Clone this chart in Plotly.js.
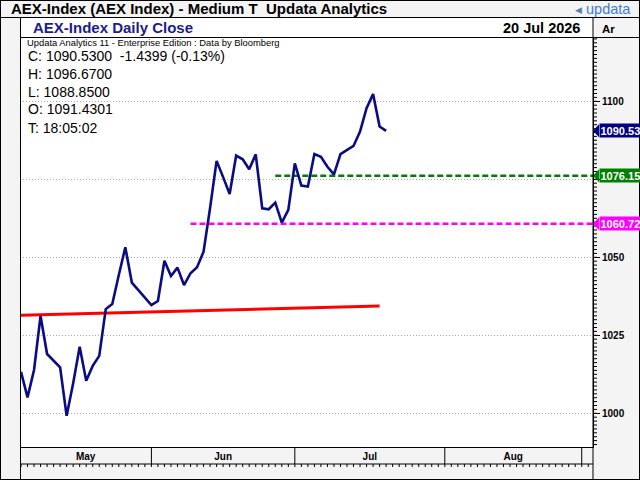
<!DOCTYPE html>
<html>
<head>
<meta charset="utf-8">
<script src="https://cdn.plot.ly/plotly-3.0.1.min.js"></script>
<style>html,body{margin:0;padding:0;background:#f4f4f4;}#chart{width:640px;height:480px;}</style>
</head>
<body>
<div id="chart"></div>
<script>
// ---- data ----
const closes = [1013.3,1005.1,1013.9,1031.2,1019.0,1016.9,1014.7,999.2,1009.6,1021.3,
  1010.4,1015.2,1018.4,1033.4,1035.0,1044.3,1053.2,1041.9,1039.5,1037.0,
  1034.7,1036.0,1048.9,1044.0,1046.7,1041.1,1044.9,1046.8,1051.8,1065.8,
  1080.9,1075.7,1070.3,1082.6,1081.4,1078.2,1083.0,1065.7,1065.4,1067.5,
  1061.1,1065.2,1080.1,1073.0,1072.7,1083.1,1082.2,1079.0,1076.6,1083.1,
  1084.4,1085.7,1090.3,1097.8,1102.3,1091.9,1090.53];
const trendX = [0, 55];
const trendY = [1031.4, 1034.4];
const greenLevel = 1076.15, greenStart = 39;
const magentaLevel = 1060.72, magentaStart = 26;
const monthNames = ["May", "Jun", "Jul", "Aug"];
const monthStarts = [20, 42, 65, 86];   // trading-day index where each following month begins
const yTickStart = 1000, yTickStep = 25, yMinorStep = 1.25;
const yHiddenLabel = {"1075": " "};      // 1075 is covered by the 1076.15 label
const infoLines = ["C: 1090.5300  -1.4399 (-0.13%)", "H: 1096.6700", "L: 1088.8500", "O: 1091.4301", "T: 18:05:02"];

// ---- geometry helpers (pixel -> paper) ----
const L = 20, R = 593, T = 37, B = 464, PB = 447;
const xp = px => (px - L) / (R - L);
const yp = py => (B - py) / (B - T);
const xRange = [-0.153, 87.73];
const yRange = [1000 + (413.3 - T) / 3.12, 1000 + (413.3 - PB) / 3.12];
const yr = [yRange[1], yRange[0]];

const dayIndex = closes.map((_, i) => i);
const lastVal = closes[closes.length - 1];

const traces = [
  {x: [greenStart, xRange[1]], y: [greenLevel, greenLevel], mode: 'lines',
   line: {color: '#008000', width: 2.5, dash: '6px,3px'}, hoverinfo: 'skip'},
  {x: [magentaStart, xRange[1]], y: [magentaLevel, magentaLevel], mode: 'lines',
   line: {color: '#ff00ff', width: 2.5, dash: '6px,3px'}, hoverinfo: 'skip'},
  {x: trendX, y: trendY, mode: 'lines', line: {color: '#ff0000', width: 3}, hoverinfo: 'skip'},
  {x: dayIndex, y: closes, mode: 'lines', line: {color: '#0b0b82', width: 2.6}}
];

const monthBounds = [xRange[0]].concat(monthStarts);
const monthMid = monthNames.map((_, k) => (monthBounds[k] + monthBounds[k + 1]) / 2);

const F = 'Liberation Sans, Arial, sans-serif';
const ann = [];
function txt(text, px, py, size, color, anchor, extra) {
  ann.push(Object.assign({text, x: xp(px), y: yp(py), xref: 'paper', yref: 'paper',
    xanchor: anchor || 'left', yanchor: 'middle', showarrow: false, borderpad: 0,
    font: {family: F, size, color}}, extra || {}));
}
txt('<b>AEX-Index (AEX Index) - Medium T  Updata Analytics</b>', 10, 9, 15, '#000');
txt('◀', 574, 9.5, 9, '#5b7fb0');
txt('updata', 585, 9, 14.5, '#3b7dd8');
txt('<b>AEX-Index Daily Close</b>', 32, 28, 15, '#1c1c8c');
txt('<b>20 Jul 2026</b>', 581, 28, 14.5, '#000', 'right');
txt('<b>Ar</b>', 601, 29, 11.5, '#000');
txt('Updata Analytics 11 - Enterprise Edition : Data by Bloomberg', 26, 42.5, 9.4, '#000');
infoLines.forEach((s, k) => txt(s, 26.5, 55.5 + 18 * k, 14, '#000'));

const shapes = [];
// minor tick comb on the price axis and daily ticks under the month row
let comb = '';
for (let v = Math.ceil(yr[0] / yMinorStep) * yMinorStep; v <= yr[1]; v += yMinorStep) {
  comb += `M ${xp(593)},${v} L ${xp(597)},${v} `;
}
shapes.push({type: 'path', xref: 'paper', yref: 'y', layer: 'above', path: comb,
  line: {color: '#000', width: 1}});
let daily = '';
for (let i = 0; i <= Math.floor(xRange[1]); i++) {
  daily += `M ${i},${yp(464)} L ${i},${yp(467)} `;
}
shapes.push({type: 'path', xref: 'x', yref: 'paper', layer: 'above', path: daily,
  line: {color: '#000', width: 1}});

// price labels on right axis
const pxPerUnit = (PB - T) / (yRange[0] - yRange[1]);
const hh = 6.5 / pxPerUnit;
[[lastVal, '#000080'], [greenLevel, '#008000'], [magentaLevel, '#ff00ff']].forEach(([v, c]) => {
  shapes.push({type: 'path', xref: 'paper', yref: 'y', layer: 'above',
    path: `M ${xp(593)},${v} L ${xp(599)},${v + hh} L ${xp(599)},${v - hh} Z`,
    fillcolor: c, line: {width: 0}});
  ann.push({text: '<b>' + v.toFixed(2) + '</b>', x: xp(598.5), y: v, xref: 'paper', yref: 'y',
    xanchor: 'left', yanchor: 'middle', showarrow: false, bgcolor: c, borderpad: 0.5,
    width: 48, align: 'left', font: {family: F, size: 11, color: '#fff'}});
});

// frame lines
const line = (x0, y0, x1, y1, layer) => shapes.push({type: 'line', xref: 'paper', yref: 'paper',
  x0: xp(x0), y0: yp(y0), x1: xp(x1), y1: yp(y1), layer: layer || 'above', line: {color: '#000', width: 1}});
shapes.push({type: 'rect', xref: 'paper', yref: 'paper', x0: xp(20), x1: xp(593), y0: yp(37), y1: yp(17.5),
  fillcolor: '#fff', line: {width: 0}, layer: 'below'});
line(0, 0.5, 640, 0.5); line(0, 479.5, 640, 479.5); line(0.5, 0, 0.5, 480); line(639.5, 0, 639.5, 480);
line(0, 17.5, 640, 17.5); line(20, 37.5, 640, 37.5);
line(20.5, 17.5, 20.5, 480); line(593, 17.5, 593, 480);
line(20, 464, 593, 464);
monthStarts.forEach(m => shapes.push({type: 'line', xref: 'x', yref: 'paper', x0: m, x1: m,
  y0: yp(464), y1: yp(447), line: {color: '#000', width: 1}}));

const layout = {
  width: 640, height: 480,
  margin: {l: L, r: 640 - R, t: T, b: 480 - B, pad: 0},
  paper_bgcolor: '#f4f4f4', plot_bgcolor: '#ffffff',
  showlegend: false, hovermode: false,
  font: {family: F},
  xaxis: {range: xRange, anchor: 'y', showline: true, linecolor: '#000', linewidth: 1,
    showgrid: false, zeroline: false, tickmode: 'array', tickvals: monthMid,
    ticktext: monthNames.map(s => '<b>' + s + '</b>'), ticks: '',
    tickfont: {family: F, size: 10, color: '#000'}},
  yaxis: {range: yr, domain: [yp(PB), 1], anchor: 'x', side: 'right',
    tickmode: 'linear', tick0: yTickStart, dtick: yTickStep, labelalias: yHiddenLabel,
    showgrid: true, gridcolor: '#a8a8a8', griddash: '1px,2px', gridwidth: 1,
    showline: true, linecolor: '#000', linewidth: 1, zeroline: false,
    ticks: 'outside', ticklen: 6, tickcolor: '#000',
    tickfont: {family: F, size: 10, color: '#000', weight: 'bold'}},
  shapes, annotations: ann
};
Plotly.newPlot('chart', traces, layout, {displayModeBar: false, staticPlot: true});
</script>
</body>
</html>
